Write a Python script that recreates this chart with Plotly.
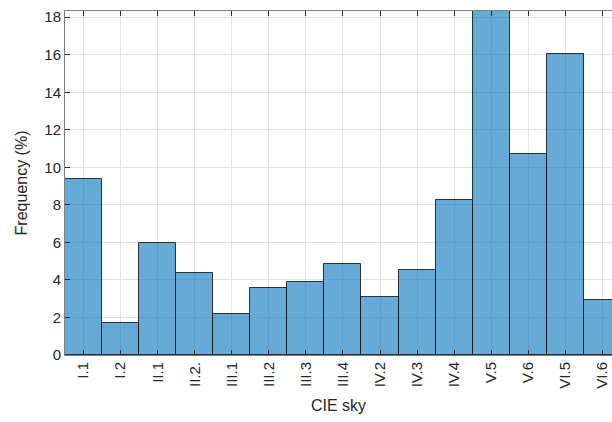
import plotly.graph_objects as go

# CIE sky classes and their frequency of occurrence (%)
sky_types = ["I.1", "I.2", "II.1", "II.2.", "III.1", "III.2", "III.3", "III.4",
             "IV.2", "IV.3", "IV.4", "V.5", "V.6", "VI.5", "VI.6"]
frequency = [9.36, 1.70, 5.95, 4.38, 2.18, 3.56, 3.87, 4.86,
             3.07, 4.51, 8.25, 19.0, 10.70, 16.04, 2.93]

y_ticks = [0, 2, 4, 6, 8, 10, 12, 14, 16, 18]

fig = go.Figure(
    go.Bar(
        x=sky_types,
        y=frequency,
        width=1.0,
        marker=dict(color="rgba(0,114,189,0.6)",
                    line=dict(color="rgba(20,20,20,0.85)", width=1)),
    )
)

font = dict(family="Liberation Sans, Arial, sans-serif", size=15, color="#262626")

fig.update_layout(
    width=612,
    height=422,
    margin=dict(l=65, r=0, t=11, b=67),
    paper_bgcolor="white",
    plot_bgcolor="white",
    showlegend=False,
    font=font,
    bargap=0,
)

fig.update_xaxes(
    type="category",
    range=[-0.5, 14.26],
    tickangle=-90,
    ticks="inside",
    ticklen=5,
    tickcolor="#262626",
    showline=True,
    linecolor="#808080",
    linewidth=1,
    mirror="ticks",
    showgrid=True,
    gridcolor="#e3e3e3",
    gridwidth=1,
    tickfont=dict(size=15, color="#262626"),
    title=dict(text="CIE sky", font=dict(size=16, color="#262626"), standoff=12),
)

fig.update_yaxes(
    range=[0, 18.33],
    tickvals=y_ticks,
    ticks="inside",
    ticklen=5,
    tickcolor="#262626",
    showline=True,
    linecolor="#808080",
    linewidth=1,
    mirror=False,
    showgrid=True,
    gridcolor="#e3e3e3",
    gridwidth=1,
    zeroline=False,
    tickfont=dict(size=15, color="#262626"),
    title=dict(text="Frequency (%)", font=dict(size=16, color="#262626"), standoff=12),
)

fig.write_html("out.html")
